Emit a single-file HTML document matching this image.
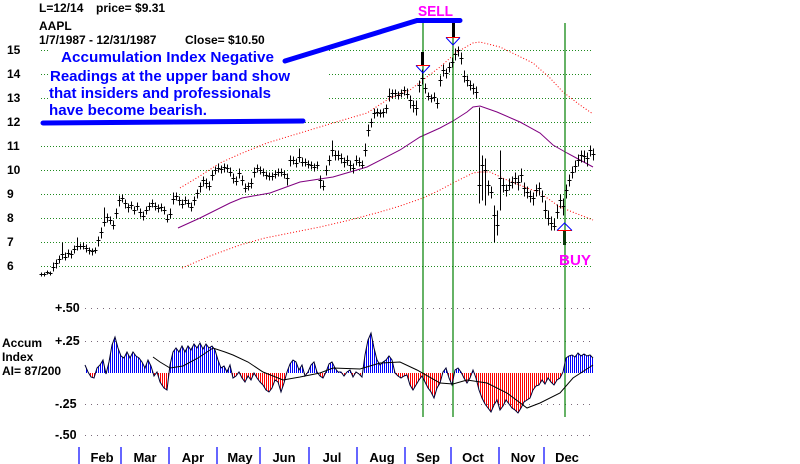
<!DOCTYPE html>
<html><head><meta charset="utf-8"><style>
html,body{margin:0;padding:0;background:#fff;}
svg{display:block;}
text{font-family:"Liberation Sans",Arial,sans-serif;font-weight:bold;fill:#000;}
</style></head><body>
<svg width="800" height="464" viewBox="0 0 800 464" xmlns="http://www.w3.org/2000/svg">
<defs>
<pattern id="pb" patternUnits="userSpaceOnUse" width="2" height="10"><rect x="0" y="0" width="1" height="10" fill="#0000ff"/></pattern>
<pattern id="pr" patternUnits="userSpaceOnUse" width="2" height="10"><rect x="0" y="0" width="1" height="10" fill="#ff0000"/></pattern>
<clipPath id="cu"><rect x="0" y="0" width="800" height="373"/></clipPath>
<clipPath id="cd"><rect x="0" y="373" width="800" height="91"/></clipPath>
</defs>
<rect width="800" height="464" fill="#fff"/>

<!-- upper grid -->
<g stroke="#1f8a1f" stroke-width="1" stroke-dasharray="1 2">
<path d="M41 50.5H593M41 74.5H593M41 98.5H593M41 122.5H593M41 146.5H593M41 170.5H593M41 194.5H593M41 218.5H593M41 242.5H593M41 266.5H593"/>
</g>
<!-- lower grid -->
<g stroke="#7a6a7a" stroke-width="1" stroke-dasharray="1 5">
<path d="M85 308.5H592M85 341.5H592M85 404.5H592M85 435.5H592"/>
</g>

<!-- text background box -->
<rect x="48" y="44" width="280" height="75" fill="#fff"/>

<!-- bands and MA -->
<g fill="none" stroke-width="1">
<polyline stroke="#ff0000" stroke-dasharray="1 2" points="180,188 200,176 220,163 240,154 267,143 300,133 333,123 367,113 390,98 410,90 423,80 440,67 457,52 473,43 480,42 500,47 533,63 550,78 563,92 580,105 593,114"/>
<polyline stroke="#ff0000" stroke-dasharray="1 2" points="182,268 210,256 240,245 265,238 290,233 320,227 350,220 380,212 400,206 423,198 440,190 453,183 473,173 480,172 490,172 507,180 540,193 560,207 575,213 593,220"/>
<polyline stroke="#800080" points="178,228 200,218 230,203 242,198 270,193 300,182 333,177 367,167 400,150 420,137 440,128 453,121 467,112 473,107 480,106 497,112 520,122 540,133 553,145 567,153 580,160 593,167"/>
</g>

<!-- green vertical lines -->
<g stroke="#008000" stroke-width="1.2">
<path d="M423 20V417M453 23V417M565 23V417"/>
</g>

<!-- price bars -->
<path transform="translate(0.5 0.5)" fill="none" stroke="#000" stroke-width="1" d="M41 272V276M39 274h4M44 272V276M42 274h4M47 270V274M45 272h4M50 271V275M48 273h4M53 262V271M51 267h4M56 259V268M54 263h4M59 255V263M57 259h4M62 242V259M60 254h4M65 252V260M63 257h4M68 249V257M66 253h4M71 250V258M69 254h4M74 245V253M72 249h4M77 237V250M75 246h4M80 243V249M78 246h4M83 242V249M81 246h4M86 244V252M84 248h4M89 247V254M87 250h4M92 248V255M90 251h4M95 247V253M93 250h4M98 236V246M96 240h4M101 227V238M99 232h4M104 207V226M102 222h4M107 213V222M105 217h4M110 216V224M108 220h4M113 220V229M111 225h4M116 208V218M114 213h4M119 195V206M117 200h4M122 194V202M120 198h4M125 199V208M123 203h4M128 203V212M126 207h4M131 201V209M129 205h4M134 206V214M132 210h4M137 202V210M135 206h4M140 208V217M138 212h4M143 211V220M141 216h4M146 206V214M144 210h4M149 202V210M147 206h4M152 199V207M150 203h4M155 202V210M153 206h4M158 204V212M156 208h4M161 203V211M159 207h4M164 206V214M162 210h4M167 214V222M165 219h4M170 208V218M168 214h4M173 192V204M171 199h4M176 192V200M174 196h4M179 196V205M177 200h4M182 199V208M180 204h4M185 196V204M183 200h4M188 199V207M186 203h4M191 202V211M189 207h4M194 196V205M192 200h4M197 189V198M195 193h4M200 182V192M198 186h4M203 176V186M201 180h4M206 178V188M204 183h4M209 181V190M207 186h4M212 170V180M210 175h4M215 166V174M213 170h4M218 163V172M216 168h4M221 165V173M219 169h4M224 163V172M222 167h4M227 164V172M225 168h4M230 167V176M228 172h4M233 173V183M231 178h4M236 176V185M234 181h4M239 168V178M237 173h4M242 175V185M240 180h4M245 183V192M243 188h4M248 182V190M246 186h4M251 178V188M249 183h4M254 167V177M252 172h4M257 164V172M255 168h4M260 166V174M258 170h4M263 168V176M261 172h4M266 171V179M264 175h4M269 172V180M267 176h4M272 172V180M270 176h4M275 170V178M273 174h4M278 168V176M276 172h4M281 168V176M279 172h4M284 170V178M282 174h4M287 173V185M285 178h4M290 155V166M288 160h4M293 156V164M291 160h4M296 158V167M294 163h4M299 148V162M297 157h4M302 157V166M300 162h4M305 158V166M303 162h4M308 160V168M306 164h4M311 161V169M309 165h4M314 163V171M312 167h4M317 161V169M315 165h4M320 175V188M318 180h4M323 180V190M321 186h4M326 165V175M324 170h4M329 155V165M327 160h4M332 140V156M330 150h4M335 150V160M333 155h4M338 150V160M336 155h4M341 153V163M339 158h4M344 157V167M342 162h4M347 155V165M345 160h4M350 160V170M348 165h4M353 163V173M351 168h4M356 155V165M354 160h4M359 157V166M357 162h4M362 160V168M360 165h4M365 143V156M363 150h4M368 124V136M366 130h4M371 118V127M369 122h4M374 108V118M372 113h4M377 108V116M375 112h4M380 109V117M378 113h4M383 108V117M381 112h4M386 104V113M384 108h4M389 88V101M387 96h4M392 89V98M390 93h4M395 89V97M393 93h4M398 91V99M396 95h4M401 89V97M399 93h4M404 86V95M402 90h4M407 88V98M405 94h4M410 95V108M408 100h4M413 100V112M411 105h4M416 100V115M414 108h4M419 80V92M417 85h4M422 69V84M420 78h4M425 83V93M423 88h4M428 92V100M426 96h4M431 94V102M429 98h4M434 92V101M432 97h4M437 98V108M435 103h4M440 75V86M438 80h4M443 64V76M441 70h4M446 68V78M444 73h4M449 62V72M447 67h4M452 57V67M450 62h4M455 48V60M453 54h4M458 46V56M456 50h4M461 52V64M459 58h4M464 70V82M462 76h4M467 75V86M465 80h4M470 80V90M468 85h4M473 83V94M471 88h4M476 86V98M474 92h4M479 107V203M477 185h4M482 155V200M480 165h4M485 158V205M483 170h4M488 180V195M486 185h4M491 186V198M489 192h4M494 205V242M492 215h4M497 210V235M495 225h4M500 150V210M498 178h4M503 178V192M501 185h4M506 184V196M504 190h4M509 178V190M507 185h4M512 176V188M510 182h4M515 172V184M513 178h4M518 175V190M516 182h4M521 168V182M519 175h4M524 182V196M522 188h4M527 186V198M525 192h4M530 190V202M528 196h4M533 192V205M531 198h4M536 184V196M534 190h4M539 182V195M537 188h4M542 190V202M540 196h4M545 200V218M543 210h4M548 210V225M546 218h4M551 216V230M549 223h4M554 218V230M552 226h4M557 204V218M555 212h4M560 194V208M558 200h4M563 198V215M561 206h4M566 184V198M564 190h4M569 174V186M567 180h4M572 166V178M570 172h4M575 160V172M573 166h4M578 154V166M576 160h4M581 150V162M579 155h4M584 150V162M582 156h4M587 152V166M585 158h4M590 145V156M588 150h4M593 148V160M591 154h4"/>

<!-- arrows -->
<rect x="421" y="52" width="3" height="14" fill="#000"/>
<path d="M416 65.5H430" stroke="#ff0000" stroke-width="1"/>
<path d="M416 65.5L423 73L430 65.5" stroke="#0000ff" fill="none" stroke-width="1"/>
<rect x="452" y="23" width="3" height="14" fill="#000"/>
<path d="M446 37.5H460" stroke="#ff0000" stroke-width="1"/>
<path d="M446 37.5L453 45L460 37.5" stroke="#0000ff" fill="none" stroke-width="1"/>
<rect x="563" y="230" width="3" height="15" fill="#0a3a0a"/>
<path d="M557 230.5H572" stroke="#ff0000" stroke-width="1"/>
<path d="M557 230.5L564.5 223L572 230.5" stroke="#0000ff" fill="none" stroke-width="1"/>

<!-- thick blue lines -->
<g stroke="#0000ff" stroke-width="5" stroke-linecap="round" fill="none">
<path d="M43 123L303 121"/>
<path d="M285 61L417 20.5L460 20.5"/>
</g>

<!-- accumulation index -->
<g>
<polygon clip-path="url(#cu)" fill="url(#pb)" points="85,373 85,365 88,372 91,377 94,378 97,368 100,365 103,360 106,374 109,362 112,345 115,337 118,348 121,356 124,358 127,352 130,358 133,352 136,356 139,358 142,362 145,368 148,360 151,366 154,376 157,372 160,382 164,388 167,390 170,365 173,352 176,348 179,352 182,346 185,352 188,346 191,350 194,344 197,348 200,343 203,349 206,344 209,348 212,346 215,350 218,360 221,368 224,366 227,372 230,365 233,378 236,376 239,372 242,378 245,382 248,376 251,380 254,373 257,378 260,382 263,385 266,390 269,392 272,388 275,380 278,382 281,392 284,383 287,372 290,364 293,360 296,362 299,370 302,365 305,376 308,372 311,365 314,362 317,372 320,376 323,378 326,372 329,364 332,362 335,368 338,372 341,372 344,376 347,372 350,370 353,377 356,372 359,374 362,377 365,355 368,340 371,333 374,348 377,360 380,365 383,362 386,360 389,356 392,360 395,373 398,376 401,378 404,376 407,375 410,385 413,390 416,385 419,380 422,376 425,382 428,388 431,392 434,398 437,388 440,383 443,372 446,368 449,378 452,385 455,370 458,368 461,372 464,378 467,383 470,378 473,370 476,378 479,390 482,398 485,404 488,408 491,412 494,405 497,400 500,410 503,406 506,400 509,404 512,408 515,410 518,413 521,408 524,402 527,400 530,398 533,390 536,386 539,385 542,380 545,384 548,378 551,382 554,385 557,380 560,378 563,372 566,358 569,356 572,355 575,357 578,353 581,356 584,354 587,356 590,355 593,358 593,373"/>
<polygon clip-path="url(#cd)" fill="url(#pr)" points="85,373 85,365 88,372 91,377 94,378 97,368 100,365 103,360 106,374 109,362 112,345 115,337 118,348 121,356 124,358 127,352 130,358 133,352 136,356 139,358 142,362 145,368 148,360 151,366 154,376 157,372 160,382 164,388 167,390 170,365 173,352 176,348 179,352 182,346 185,352 188,346 191,350 194,344 197,348 200,343 203,349 206,344 209,348 212,346 215,350 218,360 221,368 224,366 227,372 230,365 233,378 236,376 239,372 242,378 245,382 248,376 251,380 254,373 257,378 260,382 263,385 266,390 269,392 272,388 275,380 278,382 281,392 284,383 287,372 290,364 293,360 296,362 299,370 302,365 305,376 308,372 311,365 314,362 317,372 320,376 323,378 326,372 329,364 332,362 335,368 338,372 341,372 344,376 347,372 350,370 353,377 356,372 359,374 362,377 365,355 368,340 371,333 374,348 377,360 380,365 383,362 386,360 389,356 392,360 395,373 398,376 401,378 404,376 407,375 410,385 413,390 416,385 419,380 422,376 425,382 428,388 431,392 434,398 437,388 440,383 443,372 446,368 449,378 452,385 455,370 458,368 461,372 464,378 467,383 470,378 473,370 476,378 479,390 482,398 485,404 488,408 491,412 494,405 497,400 500,410 503,406 506,400 509,404 512,408 515,410 518,413 521,408 524,402 527,400 530,398 533,390 536,386 539,385 542,380 545,384 548,378 551,382 554,385 557,380 560,378 563,372 566,358 569,356 572,355 575,357 578,353 581,356 584,354 587,356 590,355 593,358 593,373"/>
<polyline fill="none" stroke="#000033" stroke-width="1" points="85,365 88,372 91,377 94,378 97,368 100,365 103,360 106,374 109,362 112,345 115,337 118,348 121,356 124,358 127,352 130,358 133,352 136,356 139,358 142,362 145,368 148,360 151,366 154,376 157,372 160,382 164,388 167,390 170,365 173,352 176,348 179,352 182,346 185,352 188,346 191,350 194,344 197,348 200,343 203,349 206,344 209,348 212,346 215,350 218,360 221,368 224,366 227,372 230,365 233,378 236,376 239,372 242,378 245,382 248,376 251,380 254,373 257,378 260,382 263,385 266,390 269,392 272,388 275,380 278,382 281,392 284,383 287,372 290,364 293,360 296,362 299,370 302,365 305,376 308,372 311,365 314,362 317,372 320,376 323,378 326,372 329,364 332,362 335,368 338,372 341,372 344,376 347,372 350,370 353,377 356,372 359,374 362,377 365,355 368,340 371,333 374,348 377,360 380,365 383,362 386,360 389,356 392,360 395,373 398,376 401,378 404,376 407,375 410,385 413,390 416,385 419,380 422,376 425,382 428,388 431,392 434,398 437,388 440,383 443,372 446,368 449,378 452,385 455,370 458,368 461,372 464,378 467,383 470,378 473,370 476,378 479,390 482,398 485,404 488,408 491,412 494,405 497,400 500,410 503,406 506,400 509,404 512,408 515,410 518,413 521,408 524,402 527,400 530,398 533,390 536,386 539,385 542,380 545,384 548,378 551,382 554,385 557,380 560,378 563,372 566,358 569,356 572,355 575,357 578,353 581,356 584,354 587,356 590,355 593,358"/>
<polyline fill="none" stroke="#000" stroke-width="1" points="153,357 160,362 170,368 183,366 198,358 213,348 225,352 233,355 248,362 263,372 283,380 300,377 320,373 333,368 360,369 380,363 400,362 417,370 440,383 453,384 467,380 487,383 507,393 527,408 540,403 560,393 573,378 593,365"/>
</g>

<!-- month ticks -->
<g stroke="#0000ff" stroke-width="1.2">
<path d="M79 447V464M121 447V464M169 447V464M217 447V464M260 447V464M309 447V464M357 447V464M405 447V464M451 447V464M499 447V464M544 447V464"/>
</g>
<g font-size="13" text-anchor="middle">
<text x="102" y="462">Feb</text>
<text x="145" y="462">Mar</text>
<text x="193" y="462">Apr</text>
<text x="240" y="462">May</text>
<text x="284" y="462">Jun</text>
<text x="332" y="462">Jul</text>
<text x="382" y="462">Aug</text>
<text x="428" y="462">Sep</text>
<text x="473" y="462">Oct</text>
<text x="523" y="462">Nov</text>
<text x="567" y="462">Dec</text>
</g>

<!-- header -->
<g font-size="12">
<text x="39" y="12">L=12/14</text>
<text x="96" y="12">price= $9.31</text>
<text x="39" y="30">AAPL</text>
<text x="39" y="44">1/7/1987 - 12/31/1987</text>
<text x="185" y="44">Close= $10.50</text>
</g>

<!-- y labels upper -->
<g font-size="12">
<text x="7" y="54">15</text>
<text x="7" y="78">14</text>
<text x="7" y="102">13</text>
<text x="7" y="126">12</text>
<text x="7" y="150">11</text>
<text x="7" y="174">10</text>
<text x="7" y="198">9</text>
<text x="7" y="222">8</text>
<text x="7" y="246">7</text>
<text x="7" y="270">6</text>
</g>

<!-- lower labels -->
<g font-size="12.5">
<text x="55" y="312">+.50</text>
<text x="55" y="345">+.25</text>
<text x="55" y="408">-.25</text>
<text x="55" y="439">-.50</text>
</g>
<g font-size="12">
<text x="2" y="347">Accum</text>
<text x="2" y="361">Index</text>
<text x="2" y="375">AI= 87/200</text>
</g>

<!-- annotation -->
<g font-size="15" style="fill:#0000ff">
<text x="61" y="62" textLength="213" lengthAdjust="spacingAndGlyphs" style="fill:#0000ff">Accumulation Index Negative</text>
<text x="50" y="81" textLength="240" lengthAdjust="spacingAndGlyphs" style="fill:#0000ff">Readings at the upper band show</text>
<text x="49" y="98" textLength="222" lengthAdjust="spacingAndGlyphs" style="fill:#0000ff">that insiders and professionals</text>
<text x="49" y="115" textLength="158" lengthAdjust="spacingAndGlyphs" style="fill:#0000ff">have become bearish.</text>
</g>

<text x="418" y="16" font-size="15" textLength="35" lengthAdjust="spacingAndGlyphs" style="fill:#ff00ff">SELL</text>
<text x="559" y="265" font-size="15" textLength="32" lengthAdjust="spacingAndGlyphs" style="fill:#ff00ff">BUY</text>
</svg>
</body></html>
